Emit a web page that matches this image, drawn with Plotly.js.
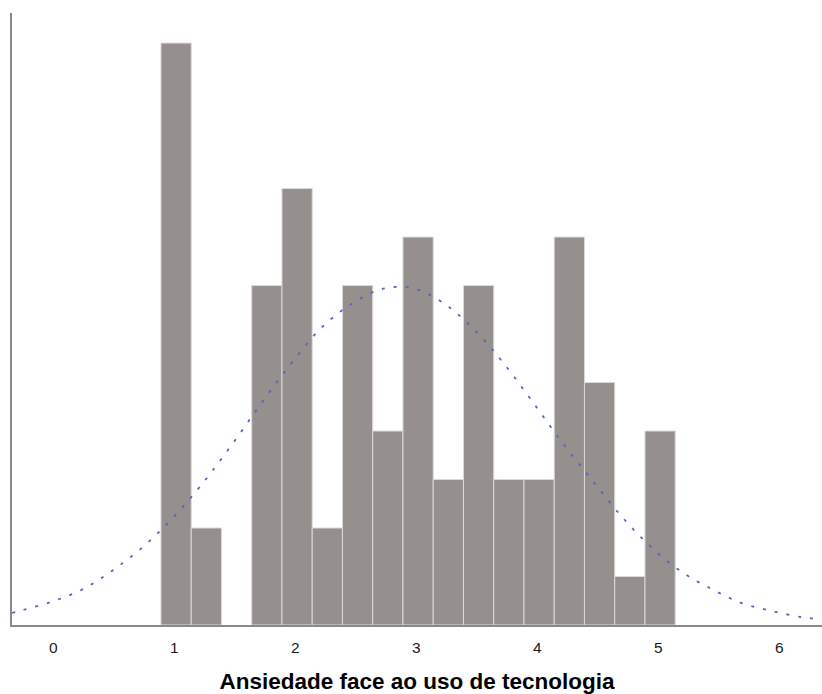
<!DOCTYPE html>
<html>
<head>
<meta charset="utf-8">
<script src="https://cdn.plot.ly/plotly-3.0.1.min.js"></script>
<style>html,body{margin:0;padding:0;background:#fff;}#chart{width:822px;height:694px;}</style>
</head>
<body>
<div id="chart"></div>
<script>
// Histogram bins (width 0.25), centers and counts
const binCenters = [1.015,1.265,1.515,1.765,2.015,2.265,2.515,2.765,3.015,3.265,3.515,3.765,4.015,4.265,4.515,4.765,5.015];
const binCounts  = [12,2,0,7,9,2,7,4,8,3,7,3,3,8,5,1,4];
// Normal curve
const curveX = [-0.341,-0.25,0,0.245,0.493,0.741,0.989,1.237,1.485,1.733,1.981,2.229,2.477,2.716,2.964,3.212,3.46,3.708,3.956,4.204,4.452,4.7,4.948,5.196,5.443,5.691,5.939,6.187,6.353];
const curveY = [0.25,0.31,0.49,0.74,1.13,1.61,2.21,2.93,3.75,4.62,5.44,6.16,6.64,6.93,6.95,6.66,6.14,5.44,4.62,3.77,2.99,2.23,1.59,1.09,0.74,0.45,0.29,0.16,0.12];
const tickVals = [0,1,2,3,4,5,6];
const xTitle = "Ansiedade face ao uso de tecnologia";

const traces = [
  {type:'bar', x:binCenters, y:binCounts, width:0.25,
   marker:{color:'#958f8d', line:{color:'#dcdad9', width:binCounts.map(c => c > 0 ? 1 : 0)}}, hoverinfo:'x+y'},
  {type:'scatter', mode:'lines', x:curveX, y:curveY,
   line:{color:'#5767bd', width:1.8, dash:'3px,9px', shape:'spline'}, hoverinfo:'skip'}
];
const layout = {
  width:822, height:694, showlegend:false, bargap:0,
  paper_bgcolor:'#fff', plot_bgcolor:'#fff',
  margin:{l:12, r:0, t:13, b:69},
  font:{family:'Liberation Sans, Arial, sans-serif', color:'#222'},
  xaxis:{range:[-0.341,6.353], tickvals:tickVals, ticktext:tickVals.map(String), showgrid:false, zeroline:false,
         showline:true, linecolor:'#8a8a8a', linewidth:2, ticks:'outside', ticklen:7, tickcolor:'rgba(0,0,0,0)',
         tickfont:{size:15.5, color:'#1a1a1a'},
         title:{text:xTitle, font:{size:22.5, color:'#000', family:'Liberation Sans, Arial, sans-serif', weight:'bold'}, standoff:19}},
  yaxis:{range:[0,12.62], showgrid:false, zeroline:false, showticklabels:false, ticks:'',
         showline:true, linecolor:'#8a8a8a', linewidth:2}
};
Plotly.newPlot('chart', traces, layout, {displayModeBar:false, staticPlot:true});
</script>
</body>
</html>
